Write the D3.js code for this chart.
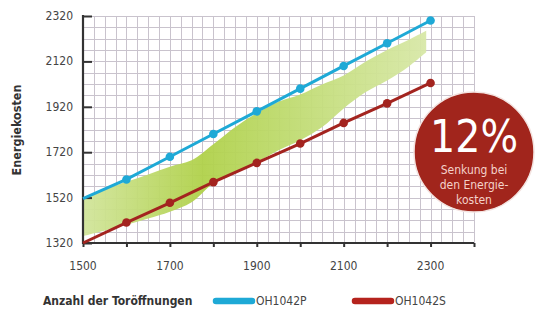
<!DOCTYPE html>
<meta charset="UTF-8">
<script src="https://d3js.org/d3.v7.min.js"></script>
<style>
body { margin: 0; background: #fff; }
text { font-family: "Liberation Sans Narrow", "DejaVu Sans Condensed", "Open Sans", sans-serif; }
</style>
<body>
<div id="chart"></div>
<script>
// Anzahl der Toröffnungen
var doors = [1500, 1600, 1700, 1800, 1900, 2000, 2100, 2200, 2300];
var costP = [1515, 1600, 1700, 1800, 1900, 2000, 2100, 2200, 2300]; // OH1042P
var costS = [1320, 1410, 1497, 1588, 1673, 1758, 1849, 1935, 2025]; // OH1042S

// green band between the lines
var bandX     = [1500, 1550, 1600, 1650, 1700, 1750, 1800, 1850, 1900, 1950, 2000, 2050, 2100, 2150, 2200, 2250, 2290];
var bandTop   = [1512, 1556, 1590, 1622, 1656, 1684, 1755, 1830, 1892, 1942, 1974, 2018, 2058, 2118, 2170, 2215, 2255];
var bandBot   = [1350, 1375, 1400, 1428, 1458, 1500, 1582, 1630, 1676, 1729, 1773, 1830, 1913, 1984, 2036, 2098, 2160];

var xTicks = [1500, 1700, 1900, 2100, 2300];
var yTicks = [1320, 1520, 1720, 1920, 2120, 2320];

var width = 541, height = 320;
var svg = d3.select("#chart").append("svg")
  .attr("width", width)
  .attr("height", height);

var x = d3.scaleLinear().domain([1500, 2400]).range([83, 474]);
var y = d3.scaleLinear().domain([1320, 2320]).range([243, 16]);

// grid
var grid = svg.append("g").attr("stroke", "#c9c3cd").attr("stroke-width", 1);
grid.selectAll("line.v")
  .data(d3.range(1525, 2401, 25))
  .enter().append("line")
    .attr("x1", function(d) { return Math.round(x(d)) + 0.5; })
    .attr("x2", function(d) { return Math.round(x(d)) + 0.5; })
    .attr("y1", y(2320)).attr("y2", y(1320));
grid.selectAll("line.h")
  .data(d3.range(1370, 2321, 50))
  .enter().append("line")
    .attr("y1", function(d) { return Math.round(y(d)) + 0.5; })
    .attr("y2", function(d) { return Math.round(y(d)) + 0.5; })
    .attr("x1", x(1500)).attr("x2", x(2400));

// band gradient
var defs = svg.append("defs");
var grad = defs.append("linearGradient").attr("id", "band")
  .attr("x1", "0%").attr("x2", "100%").attr("y1", "0%").attr("y2", "0%");
grad.append("stop").attr("offset", "0%").attr("stop-color", "#d2e59c");
grad.append("stop").attr("offset", "35%").attr("stop-color", "#b0d14a");
grad.append("stop").attr("offset", "60%").attr("stop-color", "#bfdb70");
grad.append("stop").attr("offset", "100%").attr("stop-color", "#d8e8a8");

var band = bandX.map(function(d, i) { return { x: d, t: bandTop[i], b: bandBot[i] }; });
svg.append("path")
  .datum(band)
  .attr("fill", "url(#band)")
  .attr("opacity", 0.95)
  .attr("d", d3.area()
    .curve(d3.curveCatmullRom)
    .x(function(d) { return x(d.x); })
    .y0(function(d) { return y(d.b); })
    .y1(function(d) { return y(d.t); }));

// axes
svg.append("g")
  .attr("transform", "translate(" + x(1500) + ",0)")
  .call(d3.axisRight(y).tickValues(yTicks).tickSize(9).tickFormat(""));
svg.append("g")
  .attr("transform", "translate(0," + y(1320) + ")")
  .call(d3.axisBottom(x).tickValues(d3.range(1500, 2401, 100)).tickSize(4).tickFormat(""));
svg.selectAll(".domain").remove();
svg.selectAll(".tick line").attr("stroke", "#333").attr("stroke-width", 2);

svg.append("line")
  .attr("x1", x(1500)).attr("x2", x(1500))
  .attr("y1", y(2320) - 1).attr("y2", y(1320) + 1)
  .attr("stroke", "#333").attr("stroke-width", 2.2);
svg.append("line")
  .attr("x1", x(1500) - 1).attr("x2", x(2400))
  .attr("y1", y(1320)).attr("y2", y(1320))
  .attr("stroke", "#333").attr("stroke-width", 2.2);

svg.selectAll("text.ylab")
  .data(yTicks)
  .enter().append("text")
    .attr("x", 73)
    .attr("y", function(d) { return y(d) + 4; })
    .attr("text-anchor", "end")
    .attr("font-size", 12)
    .attr("fill", "#444")
    .text(function(d) { return d; });

svg.selectAll("text.xlab")
  .data(xTicks)
  .enter().append("text")
    .attr("x", function(d) { return x(d); })
    .attr("y", 270)
    .attr("text-anchor", "middle")
    .attr("font-size", 12)
    .attr("fill", "#444")
    .text(function(d) { return d; });

svg.append("text")
  .attr("transform", "translate(21,130) rotate(-90)")
  .attr("text-anchor", "middle")
  .attr("font-size", 12.5)
  .attr("font-weight", "bold")
  .attr("fill", "#333")
  .text("Energiekosten");

// lines
function drawSeries(vals, color) {
  var pts = doors.map(function(d, i) { return [x(d), y(vals[i])]; });
  svg.append("path")
    .attr("d", d3.line()(pts))
    .attr("fill", "none")
    .attr("stroke", color)
    .attr("stroke-width", 3);
  svg.selectAll(null)
    .data(pts.slice(1))
    .enter().append("circle")
      .attr("cx", function(d) { return d[0]; })
      .attr("cy", function(d) { return d[1]; })
      .attr("r", 4.3)
      .attr("fill", color);
}
drawSeries(costP, "#1ea9d6");
drawSeries(costS, "#a3241f");

// badge
var badge = svg.append("g").attr("transform", "translate(474,152)");
badge.append("circle").attr("r", 60).attr("fill", "#a1251c")
  .attr("stroke", "#f3e3e0").attr("stroke-width", 1.5);
badge.append("text")
  .attr("y", 0)
  .attr("text-anchor", "middle")
  .attr("font-size", 44)
  .attr("font-family", "Lato, 'Open Sans', sans-serif")
  .attr("font-weight", 300)
  .attr("fill", "#fff")
  .text("12%");
var sub = ["Senkung bei", "den Energie-", "kosten"];
badge.selectAll("text.sub")
  .data(sub)
  .enter().append("text")
    .attr("y", function(d, i) { return 22 + i * 15; })
    .attr("text-anchor", "middle")
    .attr("font-size", 12)
    .attr("fill", "#f4d2ca")
    .text(function(d) { return d; });

// legend
var legend = svg.append("g").attr("transform", "translate(0,301)");
legend.append("text")
  .attr("x", 43).attr("y", 4)
  .attr("font-size", 12)
  .attr("font-weight", "bold")
  .attr("fill", "#333")
  .text("Anzahl der Toröffnungen");
var legItems = [
  { name: "OH1042P", color: "#1ea9d6", x: 213 },
  { name: "OH1042S", color: "#b5231d", x: 352 }
];
legItems.forEach(function(it) {
  legend.append("line")
    .attr("x1", it.x + 3).attr("x2", it.x + 39)
    .attr("y1", 0).attr("y2", 0)
    .attr("stroke", it.color).attr("stroke-width", 6.5)
    .attr("stroke-linecap", "round");
  legend.append("text")
    .attr("x", it.x + 43).attr("y", 4)
    .attr("font-size", 12)
    .attr("fill", "#444")
    .text(it.name);
});
</script>
</body>
